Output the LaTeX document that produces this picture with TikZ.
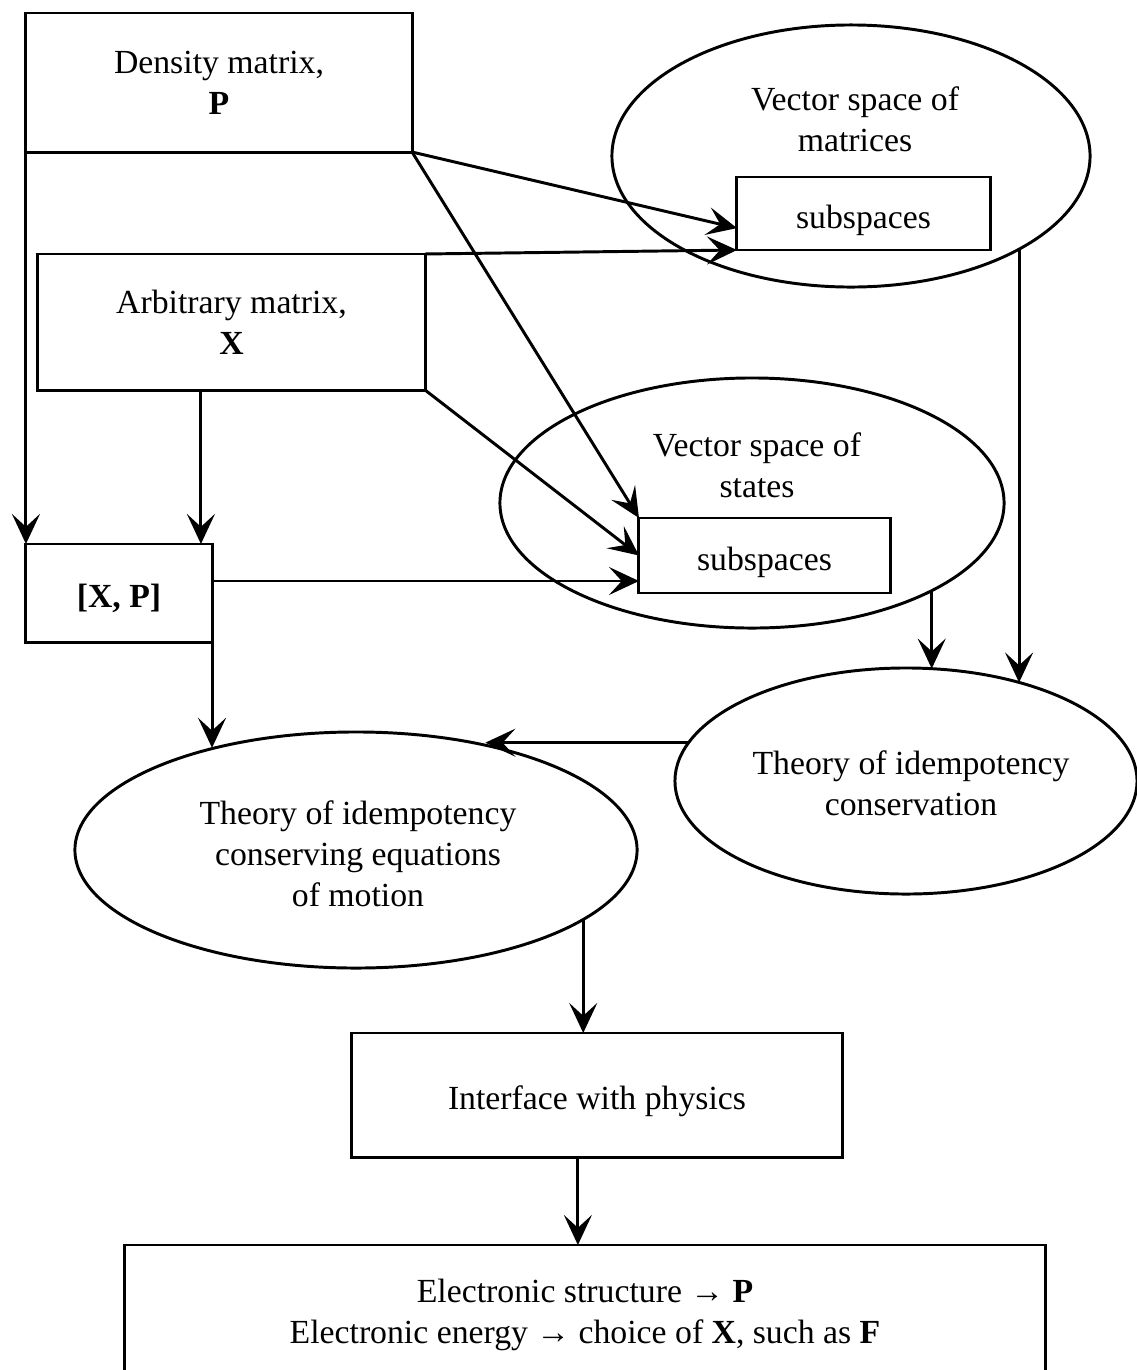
\documentclass[tikz,border=0pt]{standalone}
\usepackage{fontspec}
\setmainfont{Liberation Serif}
\usetikzlibrary{arrows.meta,shapes.geometric,calc}
\begin{document}
\begin{tikzpicture}[x=0.025cm, y=-0.025cm,
  font=\fontsize{24}{29}\selectfont,
  box/.style={draw, line width=2.1pt, rectangle, inner sep=0pt, outer sep=0pt, align=center},
  onebox/.style={box, text height=21pt, text depth=0pt},
  ell/.style={draw, line width=2.1pt, ellipse, inner sep=0pt, outer sep=0pt},
  txt/.style={align=center, inner sep=0pt, outer sep=0pt},
  conn/.style={line width=2.1pt, -{Stealth[length=0.75cm,width=0.7cm,inset=0.32cm]}}]
\useasboundingbox (0,0) rectangle (1137,1370);

% ellipses
\node[ell, minimum width=11.95cm, minimum height=6.55cm] (vsm) at (851,156) {};
\node[txt] (vsmt) at (855,119) {Vector space of\\matrices};
\node[ell, minimum width=12.6cm, minimum height=6.25cm] (vss) at (752,503) {};
\node[txt] (vsst) at (757,465) {Vector space of\\states};
\node[ell, minimum width=11.55cm, minimum height=5.65cm] (cons) at (906,781) {};
\node[txt] (const) at (911,783) {Theory of idempotency\\conservation};
\node[ell, minimum width=14.05cm, minimum height=5.9cm] (eom) at (356,850) {};
\node[txt] (eomt) at (358,854) {Theory of idempotency\\conserving equations\\of motion};

% boxes
\node[box, minimum width=9.65cm, minimum height=3.475cm] (dens) at (219,82.5) {Density matrix,\\\textbf{P}};
\node[box, minimum width=9.675cm, minimum height=3.4cm] (arb) at (231.5,322) {Arbitrary matrix,\\\textbf{X}};
\node[onebox, minimum width=4.65cm, minimum height=2.45cm] (xp) at (119,593) {\textbf{[X, P]}};
\node[onebox, minimum width=6.325cm, minimum height=1.825cm] (sub1) at (863.5,213.5) {subspaces};
\node[onebox, minimum width=6.275cm, minimum height=1.875cm] (sub2) at (764.5,555.5) {subspaces};
\node[onebox, minimum width=12.25cm, minimum height=3.1cm] (iface) at (597,1095) {Interface with physics};
\node[box, minimum width=23cm, minimum height=3.5cm] (bot) at (585,1315) {Electronic structure → \textbf{P}\\Electronic energy → choice of \textbf{X}, such as \textbf{F}};

% helper coordinates
\coordinate (c1) at ($(sub1.south west)!0.3!(sub1.north west)$);
\coordinate (c2) at ($(arb.south west)!0.421!(arb.south east)$);
\coordinate (c3) at ($(sub2.north west)!0.84!(sub2.south west)$);
\coordinate (c4) at ($(iface.south west)!0.461!(iface.south east)$);

% connectors
\draw[conn] (dens.south west) -- (dens.south west |- xp.north);
\draw[conn] (dens.south east) -- (c1);
\draw[conn] (arb.north east) -- (sub1.south west);
\draw[conn] (dens.south east) -- (sub2.north west);
\draw[conn] (arb.south east) -- (sub2.west);
\draw[conn] (c2) -- (c2 |- xp.north);
\draw[conn] (xp.east |- c3) -- (c3);
\draw[conn] (xp.south east) -- (xp.south east |- eom.144.95);
\draw[conn] (vss.-26.7) -- (vss.-26.7 |- cons.78.4);
\draw[conn] (vsm.-29.3) -- (vsm.-29.3 |- cons.41.4);
\draw[conn] (cons.170.67) -- (cons.170.67 -| eom.39.4);
\draw[conn] (eom.-17.85) -- (eom.-17.85 |- iface.north);
\draw[conn] (c4) -- (c4 |- bot.north);
\end{tikzpicture}
\end{document}
